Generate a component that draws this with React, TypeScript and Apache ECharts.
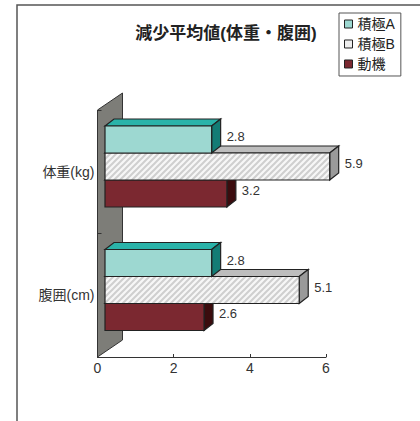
import React, { useEffect, useRef } from "react";
import * as echarts from "echarts";

const categories = ["体重(kg)", "腹囲(cm)"];
const seriesNames = ["積極A", "積極B", "動機"];
const valuesA = [2.8, 2.8];
const valuesB = [5.9, 5.1];
const valuesM = [3.2, 2.6];
const xTicks = [0, 2, 4, 6];

const FONT = "'Liberation Sans', 'Noto Sans CJK JP', sans-serif";

function makeHatch(): any {
  const c = document.createElement("canvas");
  c.width = 6;
  c.height = 6;
  const ctx = c.getContext("2d")!;
  ctx.fillStyle = "#f7f7f7";
  ctx.fillRect(0, 0, 6, 6);
  ctx.strokeStyle = "#cfcfcf";
  ctx.lineWidth = 2;
  ctx.beginPath();
  ctx.moveTo(-1, 7);
  ctx.lineTo(7, -1);
  ctx.moveTo(-4, 4);
  ctx.lineTo(4, -4);
  ctx.moveTo(2, 10);
  ctx.lineTo(10, 2);
  ctx.stroke();
  return { image: c.toDataURL(), repeat: "repeat", imageWidth: 6, imageHeight: 6 };
}

export default function App() {
  const ref = useRef<HTMLDivElement>(null);
  useEffect(() => {
    document.body.style.margin = "0";
    const chart = echarts.init(ref.current!, null, { renderer: "svg" });
    const hatch = makeHatch();
    const palettes = [
      { front: "#9dd8d1", top: "#2ab3a9", side: "#137c75", legend: "#9dd8d1" },
      { front: hatch, top: "#bdbdbd", side: "#9a9a9a", legend: "#eeeeee" },
      { front: "#7b2830", top: "#5a1a1f", side: "#3b0c0e", legend: "#7b2830" },
    ];
    const DX = 9;
    const DY = -7;
    const makeRender = (si: number) => (params: any, api: any) => {
      const v = api.value(0);
      const cat = api.value(1);
      const band = api.size([0, 1])[1];
      const bh = band * 0.2186;
      const shift = band * 0.0425;
      const cy = api.coord([0, cat])[1];
      const x0 = api.coord([0, cat])[0] + 7.5;
      const x1 = api.coord([v, cat])[0] + 7.5;
      const y0 = cy - 1.5 * bh + si * bh - shift;
      const y1 = y0 + bh;
      const p = palettes[si];
      const stroke = "#222";
      return {
        type: "group",
        children: [
          {
            type: "polygon",
            shape: { points: [[x0, y0], [x0 + DX, y0 + DY], [x1 + DX, y0 + DY], [x1, y0]] },
            style: { fill: p.top, stroke, lineWidth: 1.2 },
          },
          {
            type: "polygon",
            shape: { points: [[x1, y0], [x1 + DX, y0 + DY], [x1 + DX, y1 + DY], [x1, y1]] },
            style: { fill: p.side, stroke, lineWidth: 1.2 },
          },
          {
            type: "rect",
            shape: { x: x0, y: y0, width: x1 - x0, height: bh },
            style: { fill: p.front, stroke, lineWidth: 1.2 },
          },
          {
            type: "text",
            style: {
              text: String(v),
              x: x1 + DX + 6,
              y: y0 + bh / 2 - 3,
              verticalAlign: "middle",
              align: "left",
              fill: "#333",
              fontSize: 13,
              fontFamily: FONT,
            },
          },
        ],
      };
    };
    const dataSets = [valuesA, valuesB, valuesM];
    const series = dataSets.map((vals, si) => ({
      type: "custom",
      name: seriesNames[si],
      z: 4 - si,
      itemStyle: { color: palettes[si].legend },
      renderItem: makeRender(si),
      encode: { x: 0, y: 1 },
      data: vals.map((v, i) => [v, i]),
    }));

    chart.setOption({
      animation: false,
      backgroundColor: "#ffffff",
      title: {
        text: "減少平均値(体重・腹囲)",
        left: 221,
        top: 20,
        textAlign: "center",
        textStyle: { fontSize: 17, fontWeight: "bold", color: "#222", fontFamily: FONT },
      },
      legend: {
        orient: "vertical",
        left: 339,
        top: 13,
        data: seriesNames,
        icon: "rect",
        itemWidth: 8,
        itemHeight: 8,
        itemGap: 6,
        padding: [4, 6, 5, 5],
        borderColor: "#555",
        borderWidth: 1,
        itemStyle: { borderColor: "#222", borderWidth: 1 },
        textStyle: { fontSize: 14, color: "#222", fontFamily: FONT },
      },
      grid: { left: 97.5, right: 94, top: 110, bottom: 64 },
      xAxis: {
        type: "value",
        min: xTicks[0],
        max: xTicks[xTicks.length - 1],
        interval: 2,
        axisLine: { show: true, lineStyle: { color: "#333", width: 1 } },
        axisTick: { show: true, inside: true, length: 3, lineStyle: { color: "#333" } },
        splitLine: { show: false },
        axisLabel: { fontSize: 14, color: "#333", margin: 4, fontFamily: FONT },
      },
      yAxis: {
        type: "category",
        data: categories,
        inverse: true,
        z: 6,
        axisLine: { show: false },
        axisTick: { show: true, inside: true, length: 4, lineStyle: { color: "#333" } },
        axisLabel: { fontSize: 14, color: "#333", margin: 3, fontFamily: FONT },
      },
      graphic: [
        {
          type: "polyline",
          shape: { points: [[17, 421], [17, 5], [420, 5]] },
          style: { fill: "none", stroke: "#555", lineWidth: 1.5 },
          z: 0,
        },
        {
          type: "polygon",
          shape: { points: [[97.5, 110], [122.5, 93], [122.5, 340], [97.5, 357]] },
          style: { fill: "#7d7d78", stroke: "#333", lineWidth: 1 },
          z: 1,
        },
      ],
      series,
    });
    return () => chart.dispose();
  }, []);
  return <div ref={ref} style={{ width: 420, height: 421 }} />;
}
